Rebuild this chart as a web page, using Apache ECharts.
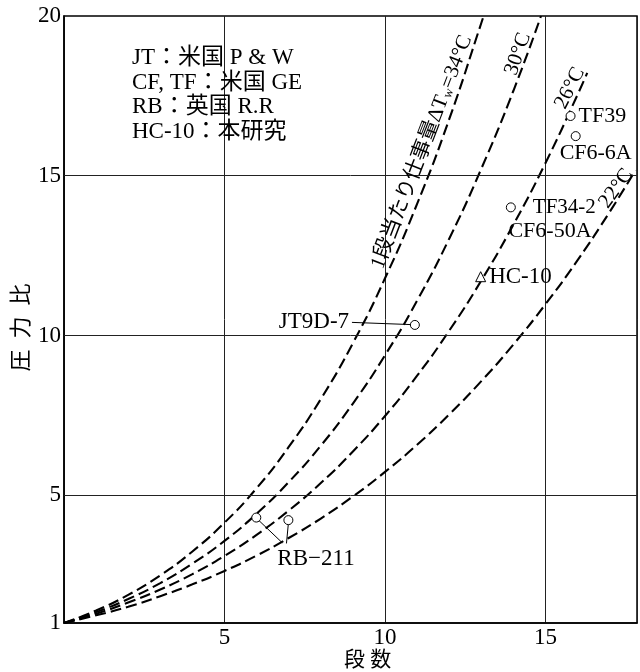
<!DOCTYPE html>
<html><head><meta charset="utf-8">
<script src="https://cdn.jsdelivr.net/npm/echarts@6/dist/echarts.min.js"></script>
<style>html,body{margin:0;padding:0;background:#fff}#c{width:640px;height:672px}</style>
</head><body><div id="c"></div>
<script>
// ---- data ----
const xTicks = [5, 10, 15];
const yTicks = [1, 5, 10, 15, 20];
const yGrid = [5, 10, 15];
const curve34 = [[0,1],[1,1.39],[2,1.88],[3,2.49],[4,3.24],[5,4.14],[6,5.22],[7,6.51],[8,8.01],[9,9.76],[10,11.79],[11,14.12],[12,16.77],[13,19.78],[13.07,20]];
const curve30 = [[0,1],[1,1.34],[2,1.75],[3,2.25],[4,2.86],[5,3.57],[6,4.42],[7,5.41],[8,6.55],[9,7.87],[10,9.38],[11,11.09],[12,13.03],[13,15.22],[14,17.66],[14.86,20]];
const curve26 = [[0,1],[1,1.29],[2,1.64],[3,2.05],[4,2.53],[5,3.10],[6,3.76],[7,4.52],[8,5.38],[9,6.37],[10,7.48],[11,8.74],[12,10.15],[13,11.72],[14,13.47],[15,15.40],[16,17.54],[16.3,18.22]];
const curve22 = [[0,1],[1,1.24],[2,1.51],[3,1.84],[4,2.21],[5,2.63],[6,3.11],[7,3.66],[8,4.27],[9,4.96],[10,5.73],[11,6.58],[12,7.53],[13,8.57],[14,9.72],[15,10.98],[16,12.36],[17,13.87],[17.8,15.17]];
const engineNames = ['TF39', 'CF6-6A', 'TF34-2', 'JT9D-7', 'RB-211a', 'RB-211b'];
const engineX = [15.78, 15.94, 13.92, 10.93, 5.99, 6.99];
const engineY = [16.87, 16.24, 14.01, 10.33, 4.30, 4.22];
const hc10 = [12.98, 11.84];
const leaderJT = [[8.97,10.41],[10.83,10.34]];
const leaderRB1 = [[6.06,4.22],[6.80,3.51]];
const leaderRB2 = [[6.99,4.12],[6.93,3.49]];
const xMax = 17.85;

const FONT = "'Liberation Serif','Noto Sans CJK JP',serif";
const chart = echarts.init(document.getElementById('c'));

const dash = {type:[11,5], width:2.1, color:'#000'};
function curve(name, d){
  return {name, type:'line', data:d, smooth:true, symbol:'none', lineStyle:dash, silent:true, z:3};
}
function lbl(txt, size, extra){ return Object.assign({show:true, formatter:txt, color:'#000', fontFamily:FONT, fontSize:size, textBorderWidth:0, opacity:1}, extra||{}); }

const engineLabels = {
  'TF39': lbl('TF39', 22, {position:'right', distance:3}),
  'CF6-6A': lbl('CF6-6A', 22, {position:'bottom', distance:1, offset:[20,0]}),
  'TF34-2': lbl('TF34-2', 21, {position:'right', distance:17}),
  'JT9D-7': {show:false},
  'RB-211a': {show:false},
  'RB-211b': {show:false}
};

const option = {
  backgroundColor:'#fff',
  animation:false,
  grid:{left:64, right:3, top:16, bottom:49, containLabel:false, outerBoundsMode:'none',
    show:true, borderColor:'#000', borderWidth:1.5, backgroundColor:'transparent'},
  xAxis:{type:'value', min:0, max:xMax, interval:5,
    axisLine:{show:true, lineStyle:{color:'#000', width:1.5}}, axisTick:{show:false},
    axisLabel:{color:'#000', fontFamily:FONT, fontSize:23, margin:3,
      formatter:v => xTicks.includes(v) ? String(v) : ''},
    splitLine:{show:true, lineStyle:{color:'#222', width:1}},
    name:'段 数', nameLocation:'middle', nameGap:27, nameMoveOverlap:false,
    nameTextStyle:{color:'#000', fontFamily:FONT, fontSize:21, padding:[0,0,0,34]}
  },
  yAxis:{type:'value', min:1, max:20, interval:1,
    axisLine:{show:true, lineStyle:{color:'#000', width:1.5}}, axisTick:{show:false},
    axisLabel:{color:'#000', fontFamily:FONT, fontSize:23, margin:3,
      formatter:v => yTicks.includes(v) ? String(v) : ''},
    splitLine:{show:false},
    name:'圧  力  比', nameLocation:'middle', nameGap:31, nameRotate:90, nameMoveOverlap:false,
    nameTextStyle:{color:'#000', fontFamily:FONT, fontSize:22, padding:[0,16,0,0]}
  },
  graphic:[{type:'text', left:132, top:46, z:10,
    style:{text:'JT：米国 P & W\nCF, TF：米国 GE\nRB：英国 R.R\nHC-10：本研究',
      font:"23px "+FONT, fill:'#000', lineHeight:24.5}}],
  series:[
    {type:'line', data:[], markLine:{silent:true, symbol:'none', label:{show:false},
      lineStyle:{color:'#222', width:1, type:'solid'},
      data: yGrid.map(v => ({yAxis:v}))}},
    curve('34', curve34), curve('30', curve30), curve('26', curve26), curve('22', curve22),
    {type:'line', data:leaderJT, symbol:'none', lineStyle:{color:'#000', width:1}, z:4},
    {type:'line', data:leaderRB1, symbol:'none', lineStyle:{color:'#000', width:1}, z:4},
    {type:'line', data:leaderRB2, symbol:'none', lineStyle:{color:'#000', width:1}, z:4},
    {type:'scatter', symbol:'circle', symbolSize:9, z:5,
      itemStyle:{color:'#fff', borderColor:'#000', borderWidth:1, opacity:1},
      data: engineNames.map((n,i) => ({name:n, value:[engineX[i], engineY[i]], label:engineLabels[n]}))},
    {type:'scatter', symbol:'triangle', symbolSize:10, z:5,
      itemStyle:{color:'#fff', borderColor:'#000', borderWidth:1, opacity:1},
      data:[{value:hc10, label:lbl('HC-10', 23, {position:'right', distance:3})}]},
    {type:'scatter', symbolSize:0, z:6, silent:true, itemStyle:{opacity:1},
      data:[
        {value:[15.14,13.27], label:lbl('CF6-50A', 22, {position:'inside'})},
        {value:[8.88,10.42], label:lbl('JT9D-7', 23, {position:'left', distance:0})},
        {value:[7.85,3.0], label:lbl('RB−211', 23, {position:'inside'})},
        {value:[11.15,15.74], label:lbl('{t|1段当たり仕事量}{t|ΔT}{s|w}{t|=34°C}', 21, {position:'inside', rotate:69,
          rich:{t:{fontFamily:FONT, fontSize:21, color:'#000'}, s:{fontFamily:FONT, fontSize:13, color:'#000', verticalAlign:'bottom', padding:[8,0,0,0]}}})},
        {value:[14.14,18.81], label:lbl('30°C', 21, {position:'inside', rotate:71})},
        {value:[15.76,17.74], label:lbl('26°C', 21, {position:'inside', rotate:63})},
        {value:[17.2,14.6], label:lbl('22°C', 21, {position:'inside', rotate:54})}
      ]}
  ]
};
chart.setOption(option);
</script></body></html>
